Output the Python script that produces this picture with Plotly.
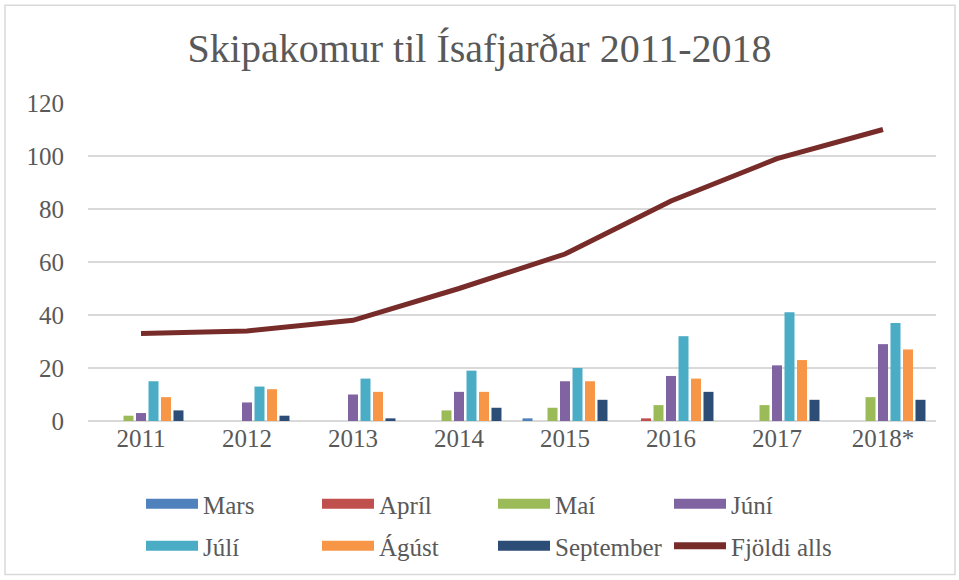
import plotly.graph_objects as go

years = ["2011", "2012", "2013", "2014", "2015", "2016", "2017", "2018*"]
mars = [0, 0, 0, 0, 1, 0, 0, 0]
april = [0, 0, 0, 0, 0, 1, 0, 0]
mai = [2, 0, 0, 4, 5, 6, 6, 9]
juni = [3, 7, 10, 11, 15, 17, 21, 29]
juli = [15, 13, 16, 19, 20, 32, 41, 37]
agust = [9, 12, 11, 11, 15, 16, 23, 27]
september = [4, 2, 1, 5, 8, 11, 8, 8]
fjoldi = [33, 34, 38, 50, 63, 83, 99, 110]

series = [
    ("Mars", mars, "#4F81BD"),
    ("Apríl", april, "#C0504D"),
    ("Maí", mai, "#9BBB59"),
    ("Júní", juni, "#8064A2"),
    ("Júlí", juli, "#4BACC6"),
    ("Ágúst", agust, "#F79646"),
    ("September", september, "#2C4D75"),
]

FONT = "Liberation Serif"
GRAY = "#595959"

L, R, T, B = 88, 23, 103, 158
PW, PH = 959 - L - R, 580 - T - B

fig = go.Figure()
for name, vals, col in series:
    fig.add_trace(go.Bar(x=years, y=vals, name=name, marker_color=col,
                         marker_line_width=0, showlegend=False))
fig.add_trace(go.Scatter(x=years, y=fjoldi, name="Fjöldi alls", mode="lines",
                         line=dict(color="#772C2A", width=5), showlegend=False))

# legend entries (rectangular swatches like the original)
for i, (name, vals, col) in enumerate(series):
    fig.add_trace(go.Scatter(x=[None], y=[None], mode="lines", name=name,
                             line=dict(color=col, width=13),
                             legend="legend" if i < 4 else "legend2"))
fig.add_trace(go.Scatter(x=[None], y=[None], mode="lines", name="Fjöldi alls",
                         line=dict(color="#772C2A", width=7), legend="legend2"))

def px_x(p):
    return (p - L) / PW

def px_y(p):
    return (580 - B - p) / PH

leg_common = dict(orientation="h", xanchor="left", yanchor="middle",
                  entrywidth=109, entrywidthmode="pixels", itemwidth=52,
                  font=dict(size=25, color=GRAY, family=FONT),
                  bgcolor="rgba(0,0,0,0)", tracegroupgap=0)

fig.update_layout(
    width=959, height=580,
    margin=dict(l=L, r=R, t=T, b=B),
    paper_bgcolor="white", plot_bgcolor="white",
    font=dict(family=FONT, color=GRAY, size=25),
    title=dict(text="Skipakomur til Ísafjarðar 2011-2018", x=0.5, xanchor="center",
               y=1 - 48 / 580, yanchor="middle",
               font=dict(size=40, color=GRAY, family=FONT)),
    barmode="group", bargap=0.175, bargroupgap=0.2,
    showlegend=True,
    legend=dict(x=px_x(141), y=px_y(504), **leg_common),
    legend2=dict(x=px_x(141), y=px_y(546), **leg_common),
    xaxis=dict(showgrid=False, showline=False, ticks="", tickfont=dict(size=25)),
    yaxis=dict(range=[0, 120], dtick=20, showgrid=True, gridcolor="#D9D9D9",
               gridwidth=1.5, zeroline=True, zerolinecolor="#D9D9D9", zerolinewidth=2,
               ticks="", tickfont=dict(size=25), ticklabelstandoff=23),
    shapes=[dict(type="rect", xref="paper", yref="paper",
                 x0=px_x(5), x1=px_x(955), y0=px_y(576), y1=px_y(5),
                 line=dict(color="#D9D9D9", width=1.5), fillcolor="rgba(0,0,0,0)",
                 layer="below")],
)

fig.write_html("out.html")
